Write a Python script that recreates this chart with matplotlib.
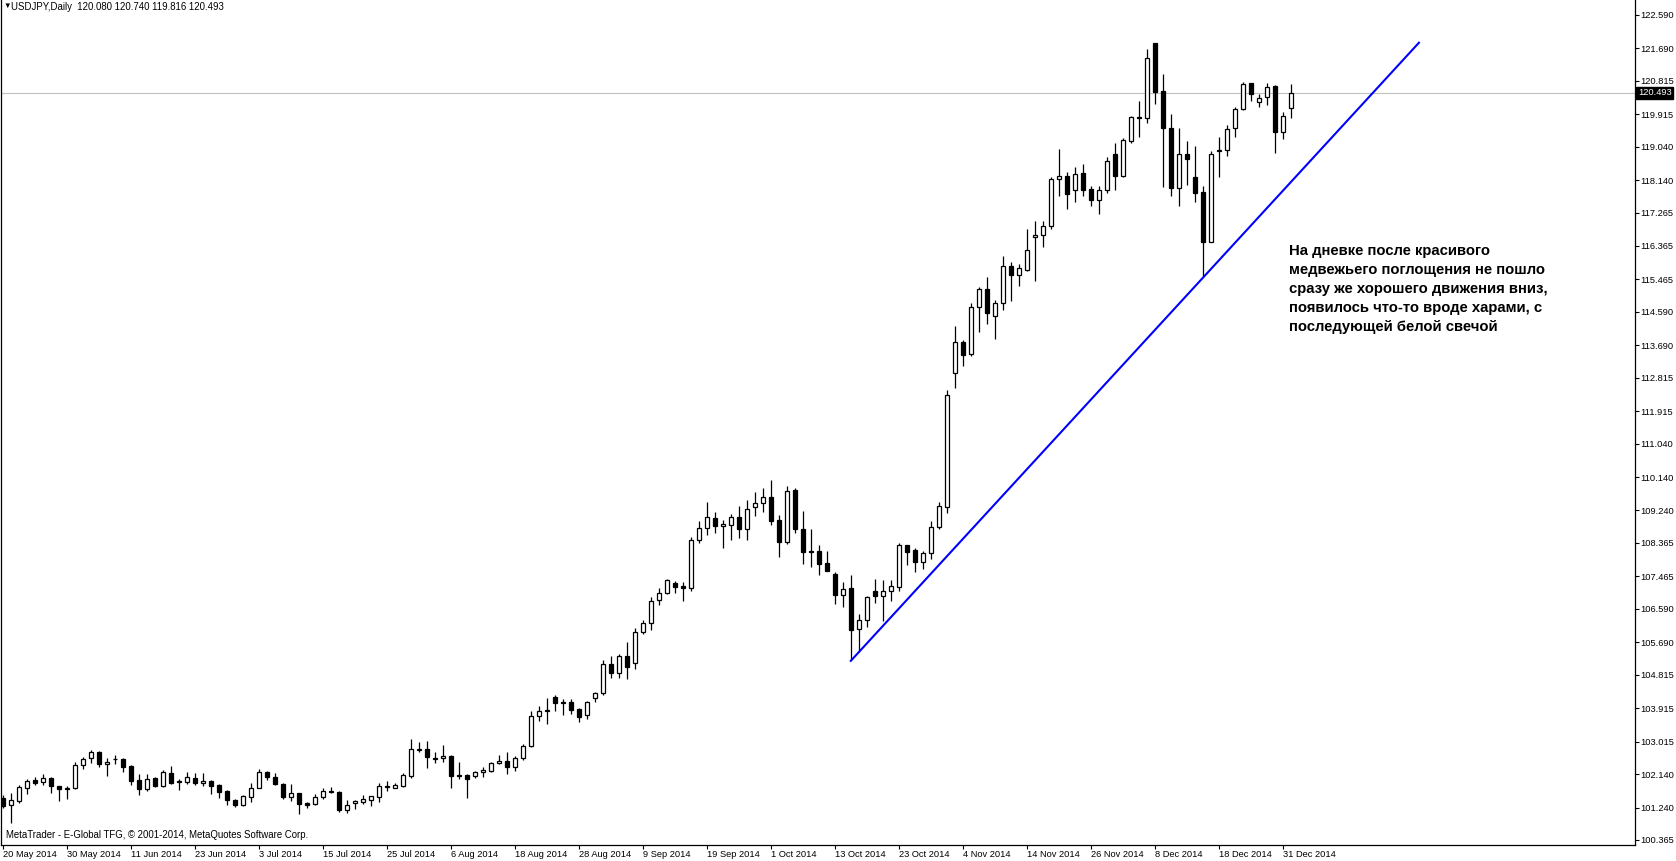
import numpy as np
import matplotlib
matplotlib.use('Agg')
import matplotlib.pyplot as plt

plt.rcParams['font.family'] = ['Liberation Sans', 'DejaVu Sans']

# USDJPY daily, one row per bar (bar index = position on the chart)
opens = [101.50, 101.30, 101.42, 101.77, 101.98, 101.92, 102.03, 101.82, 101.73, 101.77,
         102.38, 102.56, 102.74, 102.40, 102.55, 102.55, 102.37, 101.98, 101.74, 102.03,
         101.83, 102.16, 101.95, 101.94, 102.04, 101.89, 101.95, 101.85, 101.69, 101.44,
         101.31, 101.53, 101.77, 102.19, 102.05, 101.87, 101.53, 101.62, 101.37, 101.33,
         101.53, 101.69, 101.66, 101.16, 101.35, 101.40, 101.45, 101.53, 101.80, 101.77,
         101.83, 102.09, 102.80, 102.81, 102.57, 102.56, 102.63, 102.12, 102.11, 102.10,
         102.19, 102.23, 102.43, 102.48, 102.34, 102.56, 102.91, 103.70, 103.87, 104.21,
         104.08, 104.07, 103.89, 103.72, 104.18, 104.32, 105.10, 104.86, 105.32, 105.12,
         105.96, 106.20, 106.82, 107.01, 107.28, 107.21, 107.14, 108.44, 108.76, 109.03,
         108.82, 108.84, 109.06, 108.73, 109.33, 109.44, 109.60, 108.98, 108.38, 109.79,
         108.73, 108.15, 108.15, 107.82, 107.53, 106.97, 107.15, 106.04, 106.28, 107.07,
         106.95, 107.08, 107.19, 108.30, 108.18, 107.84, 108.09, 108.79, 109.34, 112.94,
         113.77, 113.45, 114.71, 115.20, 114.49, 114.82, 115.83, 115.57, 115.72, 116.60,
         116.65, 116.89, 118.16, 118.25, 117.86, 118.32, 117.89, 117.59, 117.86, 118.84,
         118.26, 119.20, 119.83, 119.81, 121.83, 120.54, 119.54, 117.92, 118.85, 118.23,
         117.81, 116.48, 118.92, 118.95, 119.54, 120.06, 120.75, 120.24, 120.37, 120.68,
         119.43, 120.080]
highs = [101.58, 101.64, 101.85, 102.00, 102.05, 102.14, 102.05, 101.83, 101.83, 102.47,
         102.59, 102.79, 102.76, 102.58, 102.65, 102.56, 102.38, 102.13, 102.14, 102.05,
         102.25, 102.36, 102.00, 102.19, 102.16, 102.18, 101.98, 101.86, 101.71, 101.48,
         101.58, 101.89, 102.27, 102.23, 102.18, 101.89, 101.87, 101.63, 101.40, 101.60,
         101.76, 101.78, 101.69, 101.44, 101.44, 101.59, 101.55, 101.89, 101.96, 101.89,
         102.16, 103.08, 103.00, 103.04, 102.73, 102.92, 102.65, 102.46, 102.13, 102.22,
         102.34, 102.47, 102.65, 102.74, 102.63, 102.95, 103.84, 103.98, 104.18, 104.27,
         104.16, 104.16, 103.91, 104.11, 104.36, 105.21, 105.32, 105.37, 105.70, 106.07,
         106.29, 106.90, 107.15, 107.40, 107.35, 107.32, 108.52, 108.96, 109.47, 109.20,
         108.98, 109.15, 109.36, 109.53, 109.73, 109.84, 110.06, 109.11, 109.90, 109.85,
         109.23, 108.74, 108.31, 108.16, 107.59, 107.32, 107.50, 106.45, 106.94, 107.40,
         107.37, 107.37, 108.37, 108.32, 108.22, 108.16, 108.96, 109.47, 112.49, 114.21,
         113.83, 114.82, 115.25, 115.54, 114.91, 116.10, 115.92, 115.88, 116.82, 117.04,
         117.04, 118.22, 118.98, 118.35, 118.49, 118.58, 117.97, 117.98, 118.76, 119.13,
         119.27, 119.87, 120.26, 121.67, 121.84, 121.00, 119.92, 119.54, 119.20, 119.06,
         117.97, 118.91, 119.31, 119.63, 120.12, 120.79, 120.76, 120.45, 120.75, 120.70,
         119.96, 120.740]
lows = [101.22, 100.81, 101.35, 101.60, 101.85, 101.84, 101.62, 101.42, 101.46, 101.74,
        102.27, 102.43, 102.32, 102.10, 102.40, 102.20, 101.85, 101.58, 101.69, 101.80,
        101.80, 101.86, 101.71, 101.87, 101.85, 101.83, 101.60, 101.49, 101.31, 101.25,
        101.28, 101.40, 101.76, 101.98, 101.85, 101.47, 101.42, 101.06, 101.22, 101.32,
        101.47, 101.62, 101.11, 101.08, 101.19, 101.33, 101.29, 101.40, 101.69, 101.76,
        101.80, 102.03, 102.73, 102.31, 102.43, 102.46, 101.77, 102.00, 101.50, 102.03,
        102.07, 102.20, 102.40, 102.13, 102.22, 102.52, 102.88, 103.58, 103.50, 103.85,
        103.74, 103.77, 103.55, 103.63, 104.09, 104.28, 104.74, 104.74, 104.70, 104.98,
        105.92, 106.03, 106.70, 106.99, 107.01, 106.79, 107.08, 108.36, 108.58, 108.64,
        108.24, 108.44, 108.51, 108.44, 109.10, 109.19, 108.85, 108.00, 108.35, 108.64,
        107.81, 107.73, 107.51, 107.62, 106.72, 106.65, 105.21, 105.44, 106.11, 106.76,
        106.25, 106.79, 107.08, 107.77, 107.59, 107.67, 107.93, 108.73, 109.17, 112.55,
        113.14, 113.41, 114.06, 114.26, 113.85, 114.63, 114.87, 115.30, 115.69, 115.43,
        116.33, 116.82, 117.72, 117.36, 117.56, 117.71, 117.45, 117.22, 117.80, 117.86,
        118.21, 119.13, 119.31, 119.69, 120.19, 117.95, 117.70, 117.43, 118.01, 117.54,
        115.54, 116.46, 118.23, 118.79, 119.29, 120.03, 120.26, 120.12, 120.17, 118.86,
        119.24, 119.816]
closes = [101.28, 101.44, 101.78, 101.95, 101.91, 102.03, 101.82, 101.73, 101.77, 102.38,
          102.54, 102.74, 102.40, 102.46, 102.54, 102.34, 101.96, 101.73, 102.00, 101.82,
          102.19, 101.89, 101.94, 102.05, 101.91, 101.95, 101.83, 101.67, 101.44, 101.31,
          101.55, 101.76, 102.19, 102.05, 101.86, 101.53, 101.62, 101.33, 101.32, 101.53,
          101.69, 101.65, 101.16, 101.31, 101.41, 101.47, 101.54, 101.82, 101.82, 101.85,
          102.11, 102.81, 102.82, 102.61, 102.54, 102.63, 102.10, 102.10, 102.00, 102.19,
          102.25, 102.43, 102.49, 102.34, 102.56, 102.91, 103.70, 103.84, 103.83, 104.05,
          104.05, 103.86, 103.69, 104.07, 104.32, 105.10, 104.86, 105.32, 105.03, 105.96,
          106.20, 106.80, 107.01, 107.37, 107.19, 107.14, 108.44, 108.76, 109.06, 108.81,
          108.87, 109.06, 108.73, 109.27, 109.44, 109.60, 108.97, 108.38, 109.76, 108.73,
          108.13, 108.13, 107.81, 107.62, 106.97, 107.12, 106.03, 106.28, 106.91, 106.95,
          107.08, 107.21, 108.30, 108.13, 107.84, 108.09, 108.79, 109.36, 112.34, 113.77,
          113.44, 114.71, 115.20, 114.57, 114.82, 115.83, 115.57, 115.77, 116.26, 116.66,
          116.89, 118.16, 118.25, 117.76, 118.31, 117.88, 117.59, 117.88, 118.65, 118.26,
          119.22, 119.83, 119.80, 121.42, 120.52, 119.54, 117.92, 118.85, 118.70, 117.80,
          116.48, 118.85, 118.95, 119.51, 120.05, 120.72, 120.45, 120.36, 120.64, 119.43,
          119.87, 120.493]

date_labels = ['20 May 2014', '30 May 2014', '11 Jun 2014', '23 Jun 2014', '3 Jul 2014',
               '15 Jul 2014', '25 Jul 2014', '6 Aug 2014', '18 Aug 2014', '28 Aug 2014',
               '9 Sep 2014', '19 Sep 2014', '1 Oct 2014', '13 Oct 2014', '23 Oct 2014',
               '4 Nov 2014', '14 Nov 2014', '26 Nov 2014', '8 Dec 2014', '18 Dec 2014',
               '31 Dec 2014']
date_bars = list(range(0, 161, 8))

price_ticks = [122.590, 121.690, 120.815, 119.915, 119.040, 118.140, 117.265, 116.365,
               115.465, 114.590, 113.690, 112.815, 111.915, 111.040, 110.140, 109.240,
               108.365, 107.465, 106.590, 105.690, 104.815, 103.915, 103.015, 102.140,
               101.240, 100.365]

last_price = 120.493
# trend line drawn by hand: (bar, price) at both ends
trend_bars = [106, 177]
trend_prices = [105.19, 121.84]

note = ("На дневке после красивого\n"
        "медвежьего поглощения не пошло\n"
        "сразу же хорошего движения вниз,\n"
        "появилось что-то вроде харами, с\n"
        "последующей белой свечой")

W, H = 1676, 861
fig = plt.figure(figsize=(W / 100, H / 100), dpi=100)
fig.patch.set_facecolor('white')
ax = fig.add_axes([1 / W, 16 / H, 1634 / W, 845 / H])

o = np.array(opens)
c = np.array(closes)
hi = np.array(highs)
lo = np.array(lows)
x = np.arange(len(o))

ax.vlines(x, lo, hi, color='black', linewidth=0.9, zorder=2)
up = c >= o
body_bot = np.minimum(o, c)
body_h = np.maximum(np.abs(c - o), 0.005)
ax.bar(x[up], body_h[up], bottom=body_bot[up], width=0.5, color='white',
       edgecolor='black', linewidth=0.9, zorder=3)
ax.bar(x[~up], body_h[~up], bottom=body_bot[~up], width=0.5, color='black',
       edgecolor='black', linewidth=0.9, zorder=3)

ax.axhline(last_price, color='#c0c0c0', linewidth=0.8, zorder=1)
ax.plot(trend_bars, trend_prices, color='#0000ff', linewidth=1.5, zorder=4)

ax.set_xlim(-0.2, 204.0)
ax.set_ylim(100.23, 122.99)

ax.spines['top'].set_visible(False)
for s in ['left', 'right', 'bottom']:
    ax.spines[s].set_linewidth(0.9)

ax.yaxis.tick_right()
ax.set_yticks(price_ticks)
ax.set_yticklabels(['%.3f' % v for v in price_ticks])
ax.tick_params(axis='y', direction='out', length=3, width=0.8, pad=1, labelsize=6.7)

ax.set_xticks(date_bars)
ax.set_xticklabels(date_labels, ha='left')
ax.tick_params(axis='x', direction='out', length=3, width=0.8, pad=0.5, labelsize=6.7)

ax.annotate('%.3f' % last_price, xy=(1, last_price), xycoords=('axes fraction', 'data'),
            xytext=(2, 0), textcoords='offset points', va='center', ha='left',
            color='white', fontsize=6.7,
            bbox=dict(boxstyle='square,pad=0.15', fc='black', ec='black'))

ax.text(0.788, 0.711, note, transform=ax.transAxes, fontsize=10.7, fontweight='bold',
        va='top', ha='left', linespacing=1.45)

ax.text(5 / 1634, 10 / 845, 'MetaTrader - E-Global TFG, © 2001-2014, MetaQuotes Software Corp.',
        transform=ax.transAxes, fontsize=6.9, va='center', ha='left')

fig.text(3 / W, 1 - 6.5 / H, '▼', fontsize=5.5, va='center', ha='left')
fig.text(11 / W, 1 - 6.5 / H, 'USDJPY,Daily  120.080 120.740 119.816 120.493',
         fontsize=6.9, va='center', ha='left')

fig.savefig('out.png', dpi=100)
